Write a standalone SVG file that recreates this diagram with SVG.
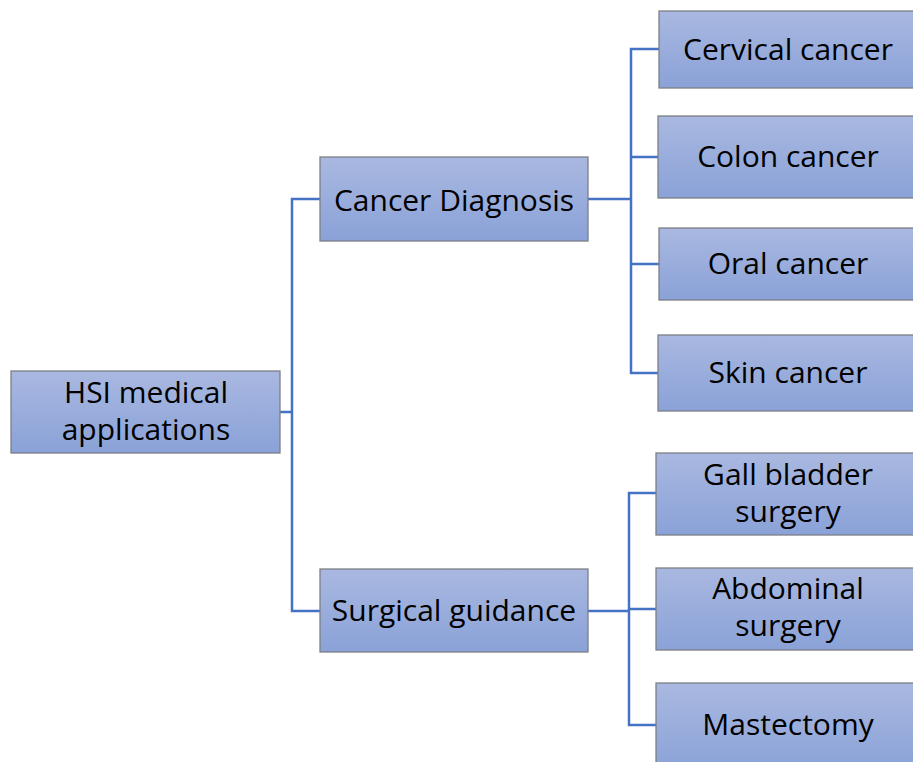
<svg xmlns="http://www.w3.org/2000/svg" width="913" height="762" viewBox="0 0 913 762">
<defs>
<linearGradient id="g" x1="0" y1="0" x2="0" y2="1">
<stop offset="0" stop-color="#a9b8e0"/>
<stop offset="1" stop-color="#8aa2d8"/>
</linearGradient>
<style>
.box{fill:url(#g);stroke:#7c7f86;stroke-width:1.3}
.t{font-family:"Open Sans","Liberation Sans",Arial,sans-serif;font-size:30px;fill:#000;text-anchor:middle}
.c{fill:none;stroke:#4472c4;stroke-width:2.5}
</style>
</defs>
<rect width="913" height="762" fill="#fff"/>
<g id="connectors">
<path class="c" d="M280,412 H292 M320,199 H292 V611 H320"/>
<path class="c" d="M588,199 H631 M659,49 H631 V373 H659 M631,157 H659 M631,264 H659"/>
<path class="c" d="M588,611 H629 M656,493 H629 V725 H656 M629,609 H656"/>
</g>
<g id="root"><rect class="box" x="11" y="371" width="269" height="82"/><text class="t" x="146" y="403">HSI medical</text><text class="t" x="146" y="440">applications</text></g>
<g id="cancer"><rect class="box" x="320" y="157" width="268" height="84"/><text class="t" x="454" y="211">Cancer Diagnosis</text></g>
<g id="surgical"><rect class="box" x="320" y="569" width="268" height="83"/><text class="t" x="454" y="621">Surgical guidance</text></g>
<g id="cervical"><rect class="box" x="659" y="11" width="260" height="77"/><text class="t" x="788" y="60">Cervical cancer</text></g>
<g id="colon"><rect class="box" x="658" y="116" width="260" height="82"/><text class="t" x="788" y="167">Colon cancer</text></g>
<g id="oral"><rect class="box" x="659" y="228" width="260" height="72"/><text class="t" x="788" y="274">Oral cancer</text></g>
<g id="skin"><rect class="box" x="658" y="335" width="260" height="76"/><text class="t" x="788" y="383">Skin cancer</text></g>
<g id="gall"><rect class="box" x="656" y="453" width="260" height="82"/><text class="t" x="788" y="485">Gall bladder</text><text class="t" x="788" y="522">surgery</text></g>
<g id="abdominal"><rect class="box" x="656" y="568" width="260" height="82"/><text class="t" x="788" y="599">Abdominal</text><text class="t" x="788" y="636">surgery</text></g>
<g id="mastectomy"><rect class="box" x="656" y="683" width="260" height="90"/><text class="t" x="788" y="735">Mastectomy</text></g>
</svg>
